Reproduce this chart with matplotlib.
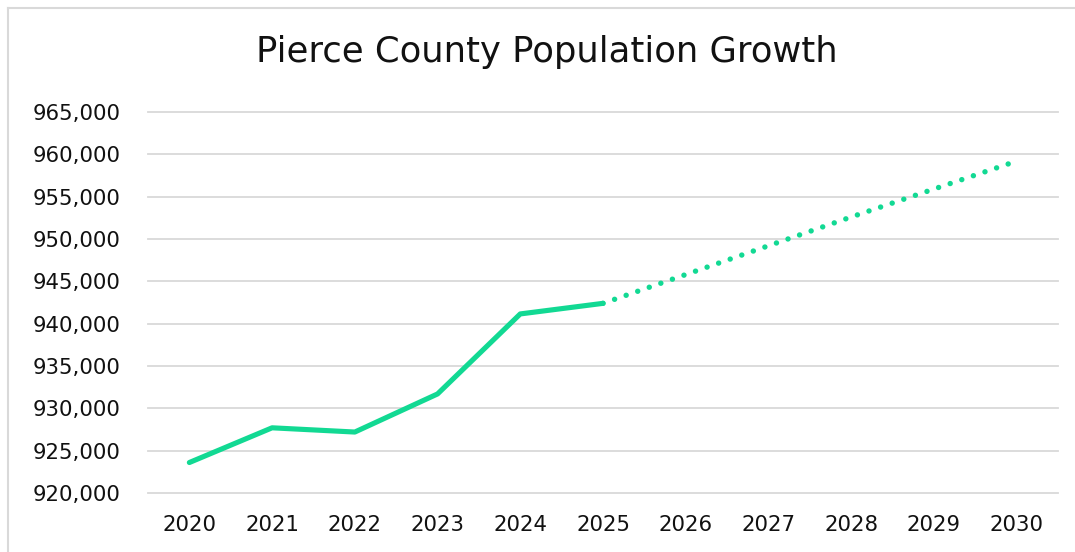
import matplotlib.pyplot as plt
from matplotlib.lines import Line2D
from matplotlib.ticker import FuncFormatter

# Data
years = [2020, 2021, 2022, 2023, 2024, 2025, 2026, 2027, 2028, 2029, 2030]
actual_years = [2020, 2021, 2022, 2023, 2024, 2025]
actual_pop = [923600, 927700, 927200, 931700, 941150, 942400]
proj_years = [2025, 2026, 2027, 2028, 2029, 2030]
proj_pop = [942400, 945800, 949200, 952600, 955900, 959200]
y_ticks = [920000, 925000, 930000, 935000, 940000, 945000, 950000, 955000, 960000, 965000]

green = '#12D993'
plt.rcParams['font.family'] = ['DejaVu Sans']

fig = plt.figure(figsize=(10.75, 5.52), dpi=100)
ax = fig.add_axes([148 / 1075, 59 / 552, 910 / 1075, 381 / 552])

ax.plot(actual_years, actual_pop, color=green, lw=3.7, solid_capstyle='round', solid_joinstyle='round', zorder=3)
ax.plot(proj_years, proj_pop, color=green, lw=3.9, linestyle=(0, (0.01, 2.25)), dash_capstyle='round', zorder=3)

ax.set_xlim(2019.5, 2030.5)
ax.set_ylim(920000, 965000)
ax.set_xticks(years)
ax.set_yticks(y_ticks)
ax.yaxis.set_major_formatter(FuncFormatter(lambda v, p: f'{int(v):,}'))
ax.grid(axis='y', color='#d9d9d9', lw=1.3)
for gl in ax.get_ygridlines():
    gl.set_clip_on(False)
ax.set_axisbelow(True)
for s in ax.spines.values():
    s.set_visible(False)
ax.tick_params(length=0, labelsize=15.3, colors='#111111')
ax.tick_params(axis='y', pad=20)
ax.tick_params(axis='x', pad=16)

fig.text(547 / 1075, 1 - 52 / 552, 'Pierce County Population Growth', ha='center', va='center',
         fontsize=25.5, color='#111111')

# outer frame (cropped at right and bottom)
fig.add_artist(Line2D([8 / 1075, 1], [1 - 8 / 552, 1 - 8 / 552], color='#d9d9d9', lw=1.5, transform=fig.transFigure))
fig.add_artist(Line2D([8 / 1075, 8 / 1075], [0, 1 - 8 / 552], color='#d9d9d9', lw=1.5, transform=fig.transFigure))

fig.savefig('out.png', dpi=100)
